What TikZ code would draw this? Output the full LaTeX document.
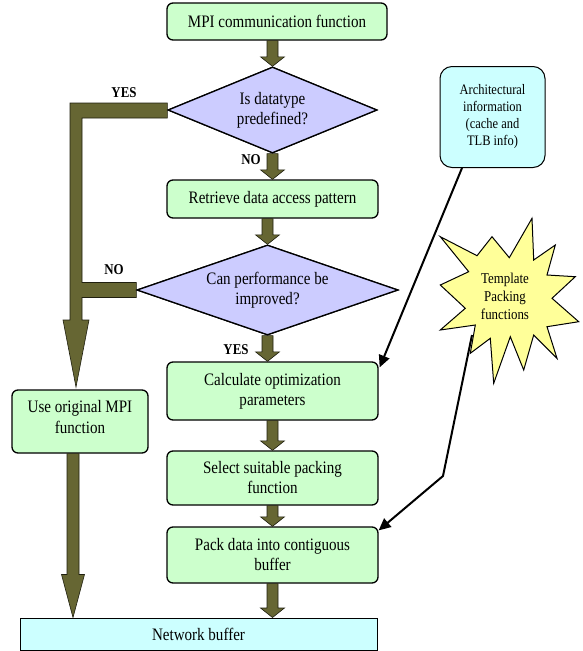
\documentclass[tikz,border=0pt]{standalone}
\usepackage{fontspec}
\setmainfont[FakeStretch=0.86]{Liberation Serif}
\usetikzlibrary{shapes.geometric,arrows.meta,calc}
\definecolor{boxgreen}{HTML}{CCFFCC}
\definecolor{declav}{HTML}{CCCCFF}
\definecolor{infocyan}{HTML}{CCFFFF}
\definecolor{staryellow}{HTML}{FFFF99}
\definecolor{fatolive}{HTML}{666633}
\tikzset{
 box/.style={draw=black, line width=1.3pt, fill=boxgreen, rounded corners=6pt, align=center, inner sep=1pt, font=\fontsize{17.5}{20}\selectfont},
 dec/.style={diamond, draw=black, line width=1.3pt, fill=declav, align=center, inner sep=0pt, font=\fontsize{17.5}{20}\selectfont},
 fat/.style={fill=fatolive, draw=black!70!fatolive, line width=0.6pt},
 thinarrow/.style={draw=black, line width=2pt, -{Triangle[length=12pt,width=11pt]}},
 lab/.style={font=\bfseries\fontsize{15}{15}\selectfont, inner sep=0pt},
}
\newcommand\fatdown[3]{%
 \filldraw[fat] let \p3=#1, \p1=#2, \p2=#3 in
  (\x3-5.5pt,\y1) -- (\x3-5.5pt,\y2+9.5pt) -- (\x3-12pt,\y2+9.5pt) -- (\x3,\y2)
  -- (\x3+12pt,\y2+9.5pt) -- (\x3+5.5pt,\y2+9.5pt) -- (\x3+5.5pt,\y1) -- cycle;}
\begin{document}
\begin{tikzpicture}[x=1pt,y=-1pt]
\useasboundingbox (0,0) rectangle (582,651);

% main column nodes
\node[box, minimum width=220pt, minimum height=37pt] (top) at (277,21.5) {MPI communication function};
\node[dec, shape aspect=2.43, minimum width=209pt, minimum height=86pt] (d1) at (272.5,110) {Is datatype\\predefined?};
\node[box, minimum width=211pt, minimum height=38pt] (ret) at (272.5,199) {Retrieve data access pattern};
\node[dec, shape aspect=2.9, minimum width=261pt, minimum height=90pt] (d2) at (267.5,290) {Can performance be\\improved?};
\node[box, minimum width=211pt, minimum height=58pt] (calc) at (272.5,391) {Calculate optimization\\parameters};
\node[box, minimum width=211pt, minimum height=54pt] (sel) at (272.5,478) {Select suitable packing\\function};
\node[box, minimum width=211pt, minimum height=56pt] (pack) at (272.5,555) {Pack data into contiguous\\buffer};
\node[box, minimum width=136pt, minimum height=63pt] (orig) at (80,421.5) {\raisebox{9pt}{\shortstack{Use original MPI\\[2pt]function}}};
\node[box, rounded corners=0pt, line width=1pt, fill=infocyan, minimum width=357pt, minimum height=32pt] (net) at (198.5,634) {Network buffer};
\node[box, fill=infocyan, rounded corners=12pt, line width=1pt, minimum width=105pt, minimum height=101pt, font=\fontsize{14.5}{17}\selectfont] (arch) at (492.5,117) {Architectural\\information\\(cache and\\TLB info)};

% fat arrows along the main column
\fatdown{(d1.north)}{(top.south)}{(d1.north)}
\fatdown{(d1.south)}{(d1.south)}{(ret.north)}
\fatdown{(d2.north)}{(ret.south)}{(d2.north)}
\fatdown{(d2.south)}{(d2.south)}{(calc.north)}
\fatdown{(calc.south)}{(calc.south)}{(sel.north)}
\fatdown{(sel.south)}{(sel.south)}{(pack.north)}
\fatdown{(pack.south)}{(pack.south)}{(net.north)}

% left branch
\coordinate (tip1) at (76,387);
\filldraw[fat] let \p1=(d1.west), \p2=(d2.west), \p3=(tip1) in
 (\x1,\y1+7pt) -- (\x3-6pt,\y1+7pt) -- (\x3-6pt,\y3+67pt) -- (\x3-13pt,\y3+67pt) -- (\x3,\y3)
 -- (\x3+13pt,\y3+67pt) -- (\x3+6pt,\y3+67pt) -- (\x3+6pt,\y2-7.5pt) -- (\x2,\y2-7.5pt)
 -- (\x2,\y2+7.5pt) -- (\x3+6pt,\y2+7.5pt) -- (\x3+6pt,\y1-8pt) -- (\x1,\y1-8pt) -- cycle;
\filldraw[fat] let \p1=($(orig.south)+(-7,0)$), \p2=(net.north) in
 (\x1-6pt,\y1) -- (\x1-6pt,\y2+43pt) -- (\x1-11.5pt,\y2+43pt) -- (\x1,\y2)
 -- (\x1+11.5pt,\y2+43pt) -- (\x1+6pt,\y2+43pt) -- (\x1+6pt,\y1) -- cycle;

% redraw diamonds over the arrows' ends
\node[dec, shape aspect=2.43, minimum width=209pt, minimum height=86pt] at (d1) {Is datatype\\predefined?};
\node[dec, shape aspect=2.9, minimum width=261pt, minimum height=90pt] at (d2) {Can performance be\\improved?};

% labels
\node[lab] (yes1) at (124,93) {YES};
\node[lab] (no1) at (251,160) {NO};
\node[lab] (no2) at (114,270) {NO};
\node[lab] (yes2) at (236,350) {YES};

% thin arrows from side information
\coordinate (a1) at (462,168);
\draw[thinarrow] (a1) -- ($(calc.north east)+(1,6)$);
\coordinate (s1) at (472,335);
\coordinate (s2) at (443,476);
\draw[thinarrow] (s1) -- (s2) -- ($(pack.north east)+(0,4)$);

% star
\filldraw[draw=black, line width=1pt, fill=staryellow]
 (440.3,236.7) -- (477,255.7) -- (492,236.7) -- (509.3,257.7) -- (532,218.3) -- (533.7,260)
 -- (555.3,245) -- (547,275) -- (575.3,276.7) -- (552,298.3) -- (578.7,321.7) -- (547,326.7)
 -- (557,358.3) -- (533.7,335) -- (523.7,370) -- (510.3,336.7) -- (493.7,383.3) -- (490.3,338.3)
 -- (470.3,353.3) -- (475.3,325) -- (440.3,330) -- (465.3,308.3) -- (440.3,285) -- (468.7,271.7) -- cycle;
\node[align=center, font=\fontsize{15}{18}\selectfont, inner sep=0pt] (star) at (505,296) {Template\\Packing\\functions};
\end{tikzpicture}
\end{document}
